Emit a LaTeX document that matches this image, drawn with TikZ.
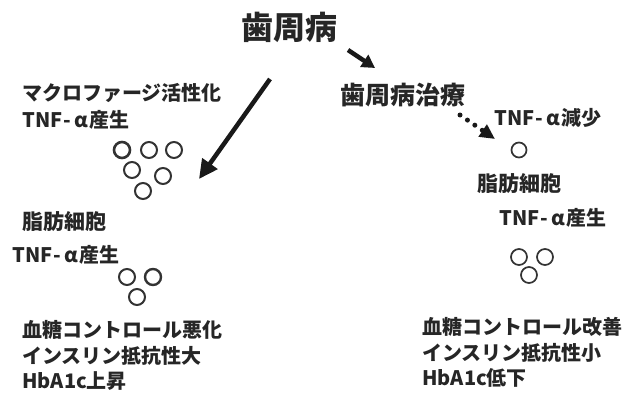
\documentclass[tikz,border=0pt]{standalone}
\usepackage{fontspec}
\setmainfont{Noto Sans CJK JP}
\usetikzlibrary{arrows.meta}
\newcommand{\tnfa}{TNF\hspace{1pt}-\hspace{3pt}α\hspace{2pt}}
\begin{document}
\begin{tikzpicture}[x=1pt,y=-1pt,
  lbl/.style={anchor=west,inner sep=0pt,font=\fontsize{20}{20}\selectfont\bfseries,text=black!85},
  cell/.style={circle,draw=black!80,line width=2pt,minimum size=16pt,inner sep=0pt},
  bigarrow/.style={line width=4.5pt,black!90,-{Triangle[length=19pt,width=18pt]}},
  smallarrow/.style={line width=4.5pt,black!90,-{Triangle[length=13pt,width=14pt]}},
  dotarrow/.style={line width=5pt,black!90,line cap=round,dash pattern=on 0pt off 9pt,-{Triangle[length=15pt,width=14pt]}}]
\useasboundingbox (0,0) rectangle (644,396);
% title
\node[anchor=center,inner sep=0pt,font=\fontsize{32}{32}\selectfont\bfseries,text=black!85] (title) at (289,27) {歯周病};
\node[lbl,font=\fontsize{25}{25}\selectfont\bfseries] (treat) at (340,95) {歯周病治療};
% left side
\node[lbl] (macro) at (22,93) {マクロファージ活性化};
\node[lbl] (tnfL1) at (22,120) {\tnfa 産生};
\node[cell,line width=2.6pt] (c1) at (122,150) {};
\node[cell] (c2) at (149,150) {};
\node[cell] (c3) at (174,150) {};
\node[cell] (c4) at (132,170) {};
\node[cell] (c5) at (163,176) {};
\node[cell] (c6) at (143,191) {};
\node[lbl,font=\fontsize{21}{21}\selectfont\bfseries] (fatL) at (22,222) {脂肪細胞};
\node[lbl] (tnfL2) at (12,255) {\tnfa 産生};
\node[cell] (d1) at (127,277) {};
\node[cell,line width=2.4pt] (d2) at (153,277) {};
\node[cell] (d3) at (137,297) {};
\node[lbl] (bsL) at (22,330) {血糖コントロール悪化};
\node[lbl] (irL) at (22,356) {インスリン抵抗性大};
\node[lbl] (hbL) at (22,381) {HbA1c上昇};
% right side
\node[lbl] (tnfR1) at (494,118) {\tnfa 減少};
\node[cell,line width=1.7pt,minimum size=15pt] (e1) at (519,150) {};
\node[lbl,font=\fontsize{21}{21}\selectfont\bfseries] (fatR) at (477,184) {脂肪細胞};
\node[lbl] (tnfR2) at (499,218) {\tnfa 産生};
\node[cell,line width=1.7pt] (f1) at (519,257) {};
\node[cell,line width=1.7pt] (f2) at (545,257) {};
\node[cell,line width=1.7pt] (f3) at (529,275) {};
\node[lbl] (bsR) at (422,327) {血糖コントロール改善};
\node[lbl] (irR) at (422,353) {インスリン抵抗性小};
\node[lbl] (hbR) at (422,378) {HbA1c低下};
% arrows
\coordinate (a1s) at (270,79);
\coordinate (a1e) at (199,179);
\draw[bigarrow] (a1s) -- (a1e);
\coordinate (a2s) at (348,50);
\coordinate (a2e) at (375,68);
\draw[smallarrow] (a2s) -- (a2e);
\coordinate (a3s) at (460,115);
\coordinate (a3e) at (495,139);
\draw[dotarrow] (a3s) -- (a3e);
\end{tikzpicture}
\end{document}
